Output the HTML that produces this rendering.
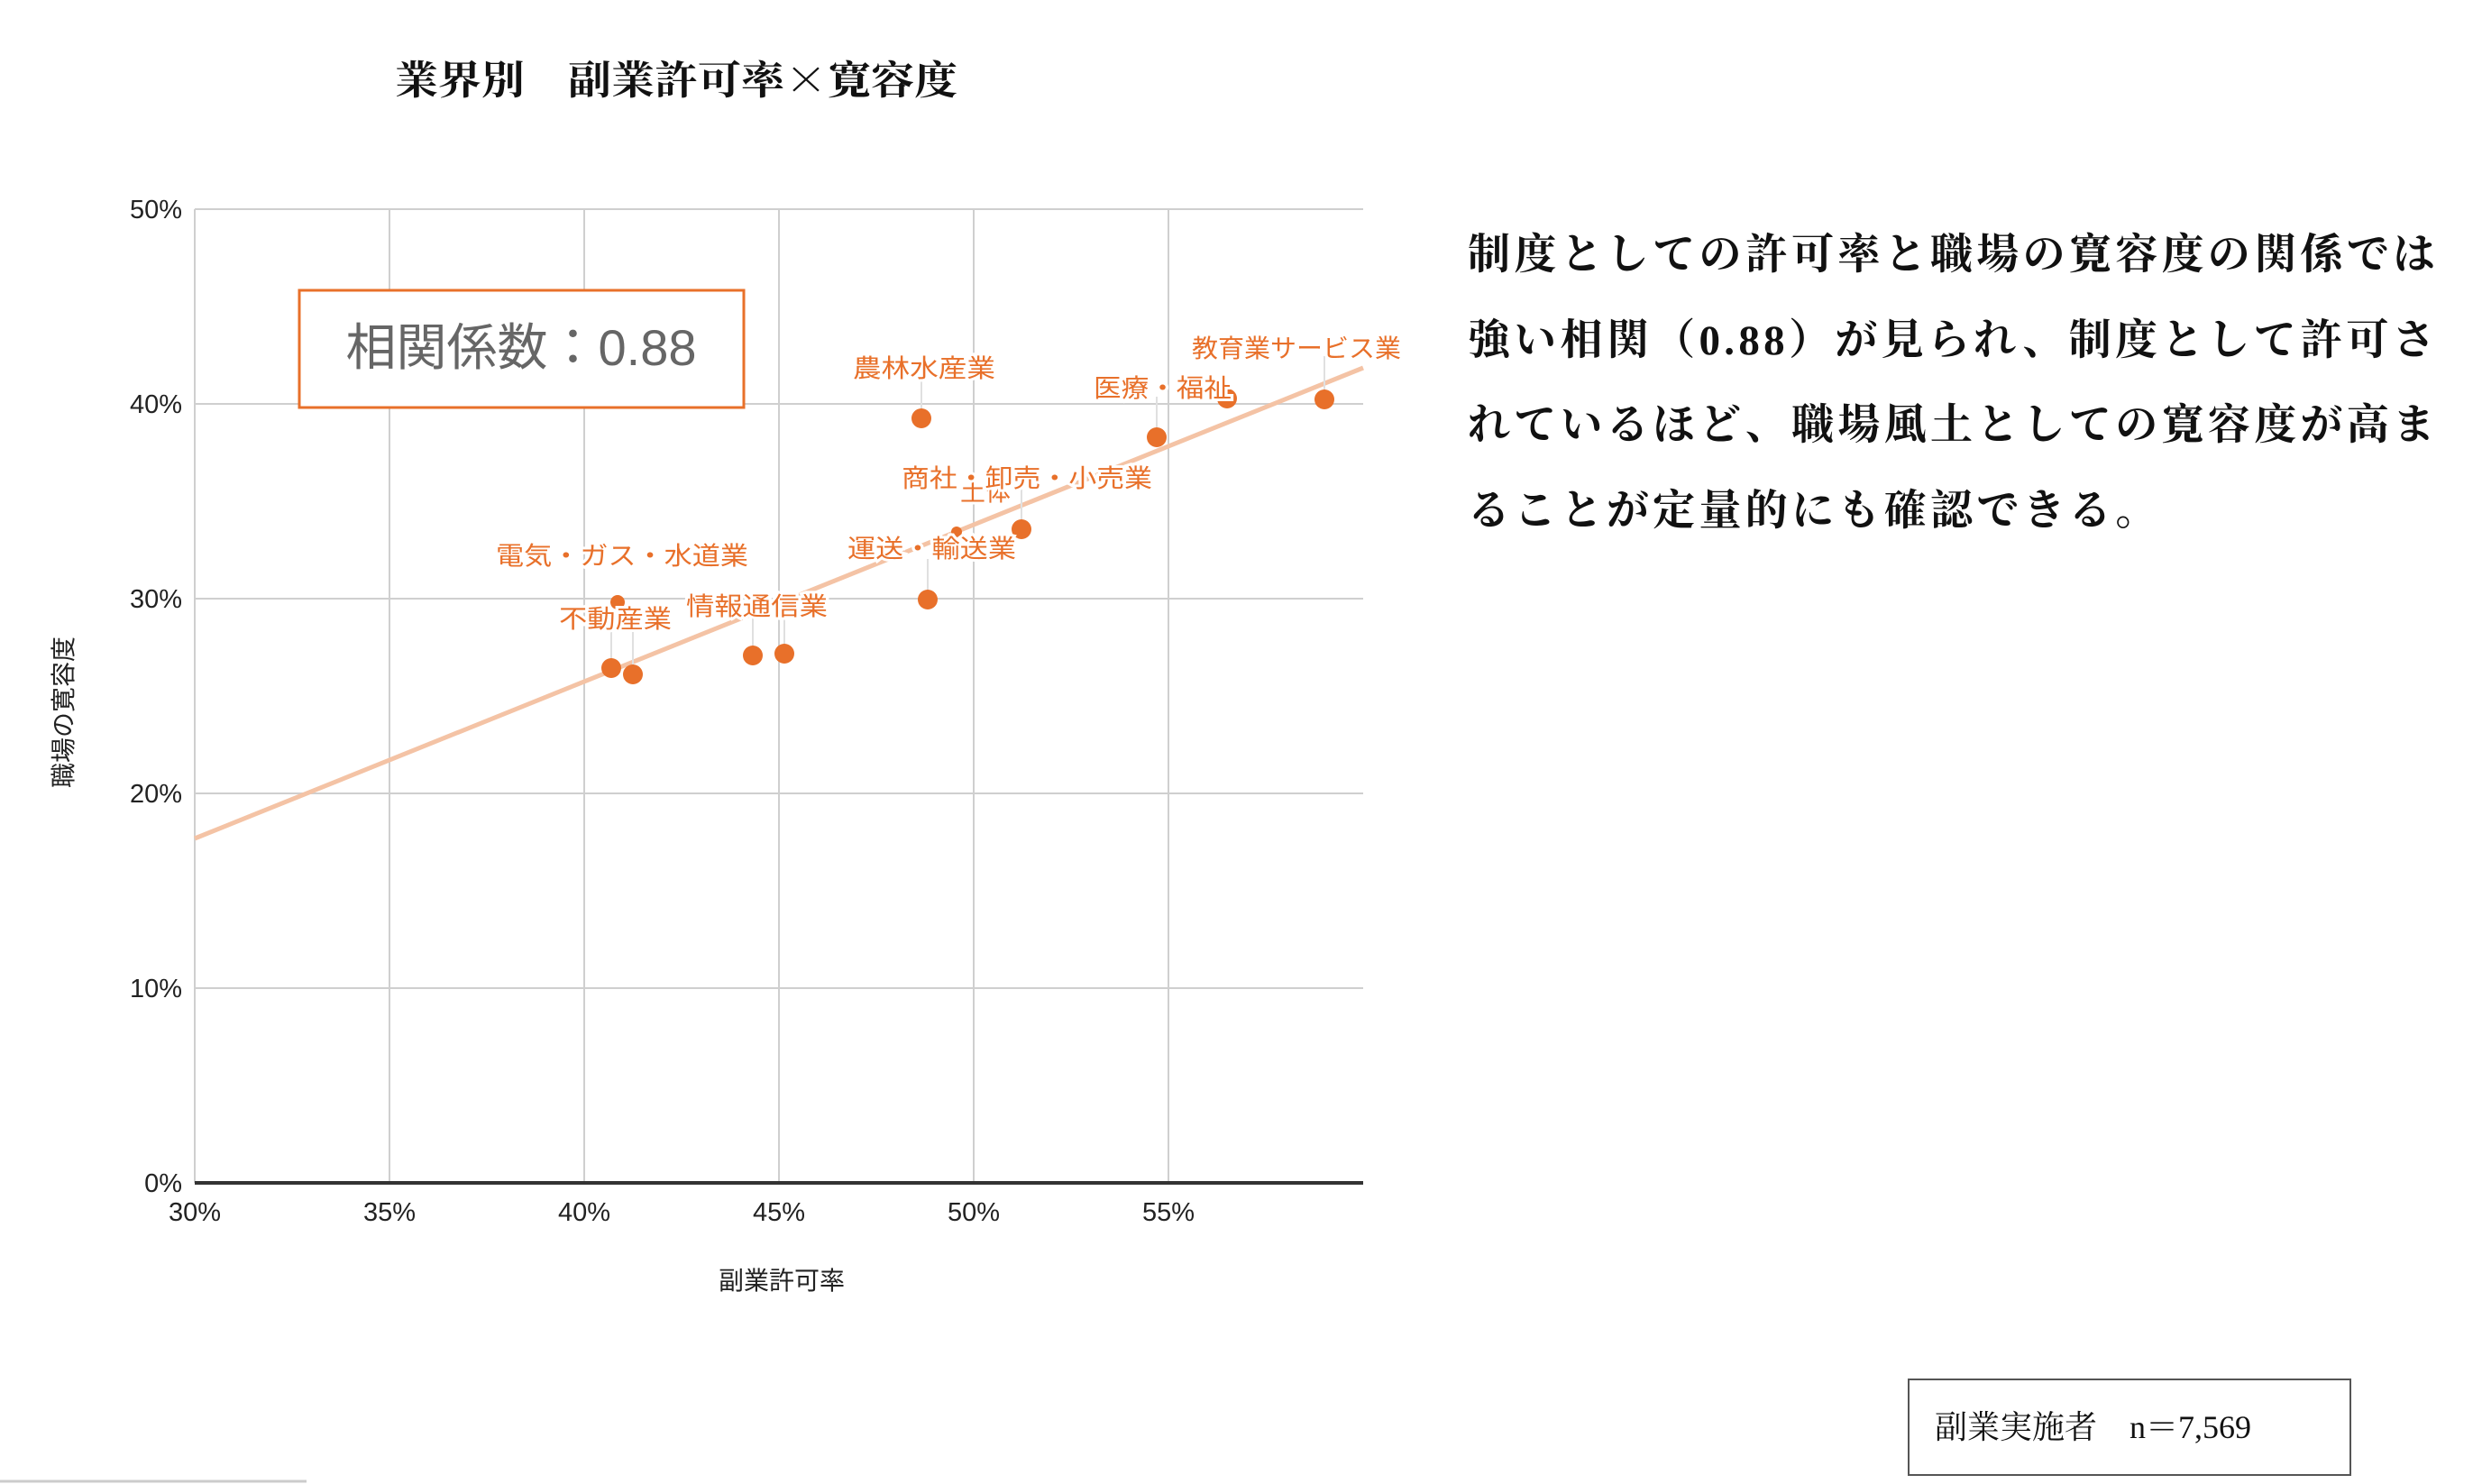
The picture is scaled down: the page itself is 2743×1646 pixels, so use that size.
<!DOCTYPE html>
<html><head><meta charset="utf-8"><style>
html,body{margin:0;padding:0;background:#fff;}
body{width:2743px;height:1646px;position:relative;overflow:hidden;}
.serif{font-family:"Liberation Serif","Noto Serif CJK SC","Noto Sans CJK JP",serif;}
.para{position:absolute;left:1628px;top:236px;font-size:47px;font-weight:bold;line-height:94.5px;letter-spacing:4.3px;color:#111;white-space:nowrap;}
.foot{position:absolute;left:2116px;top:1529px;width:492px;height:108px;border:2px solid #555;box-sizing:border-box;font-size:36px;line-height:104px;padding-left:28px;color:#111;white-space:nowrap;}
</style></head><body>
<svg width="2743" height="1646" style="position:absolute;left:0;top:0" font-family="Liberation Sans, Noto Sans CJK JP, sans-serif">
<text x="438" y="104" textLength="624" lengthAdjust="spacingAndGlyphs" font-size="44" font-weight="bold" font-family="Noto Serif CJK SC, serif" fill="#111">業界別　副業許可率×寛容度</text>
<g stroke="#cfcfcf" stroke-width="2">
<line x1="216" y1="232" x2="1512" y2="232"/>
<line x1="216" y1="448" x2="1512" y2="448"/>
<line x1="216" y1="664" x2="1512" y2="664"/>
<line x1="216" y1="880" x2="1512" y2="880"/>
<line x1="216" y1="1096" x2="1512" y2="1096"/>
<line x1="216" y1="232" x2="216" y2="1312"/>
<line x1="432" y1="232" x2="432" y2="1312"/>
<line x1="648" y1="232" x2="648" y2="1312"/>
<line x1="864" y1="232" x2="864" y2="1312"/>
<line x1="1080" y1="232" x2="1080" y2="1312"/>
<line x1="1296" y1="232" x2="1296" y2="1312"/>
</g>
<line x1="216" y1="1312" x2="1512" y2="1312" stroke="#333" stroke-width="4"/>
<g font-size="29" fill="#222" text-anchor="end">
<text x="202" y="242">50%</text><text x="202" y="458">40%</text><text x="202" y="674">30%</text>
<text x="202" y="890">20%</text><text x="202" y="1106">10%</text><text x="202" y="1322">0%</text>
</g>
<g font-size="29" fill="#222" text-anchor="middle">
<text x="216" y="1354">30%</text><text x="432" y="1354">35%</text><text x="648" y="1354">40%</text>
<text x="864" y="1354">45%</text><text x="1080" y="1354">50%</text><text x="1296" y="1354">55%</text>
</g>
<text x="867" y="1430" text-anchor="middle" font-size="28" fill="#222">副業許可率</text>
<text transform="translate(80,790) rotate(-90)" text-anchor="middle" font-size="28" fill="#222">職場の寛容度</text>
<line x1="216" y1="930" x2="1512" y2="408" stroke="#f4c3a5" stroke-width="5"/>
<rect x="332" y="322" width="493" height="130" fill="#fff" stroke="#e8702a" stroke-width="3"/>
<text x="578" y="405" text-anchor="middle" font-size="56" fill="#666">相関係数：0.88</text>
<g stroke="#e0e0e0" stroke-width="2">
<line x1="1022" y1="420" x2="1022" y2="455"/><line x1="1283" y1="440" x2="1283" y2="475"/>
<line x1="1469" y1="395" x2="1469" y2="433"/><line x1="1133" y1="540" x2="1133" y2="578"/>
<line x1="1029" y1="620" x2="1029" y2="655"/><line x1="835" y1="685" x2="835" y2="717"/>
<line x1="870" y1="685" x2="870" y2="715"/><line x1="678" y1="697" x2="678" y2="731"/><line x1="702" y1="697" x2="702" y2="738"/>
</g>
<g fill="#e8702a">
<circle cx="685" cy="668" r="8"/><circle cx="1061" cy="590" r="6"/>
<circle cx="1022" cy="464" r="11"/><circle cx="1361" cy="442" r="11"/><circle cx="1469" cy="443" r="11"/>
<circle cx="1283" cy="485" r="11"/><circle cx="1133" cy="587" r="11"/><circle cx="1029" cy="665" r="11"/>
<circle cx="835" cy="727" r="11"/><circle cx="870" cy="725" r="11"/><circle cx="678" cy="741" r="11"/><circle cx="702" cy="748" r="11"/>
</g>
<g font-size="28" fill="#e8702a" stroke="#fff" stroke-width="6" paint-order="stroke">
<text x="946" y="418" textLength="158" lengthAdjust="spacingAndGlyphs">農林水産業</text>
<text x="1322" y="396" textLength="232" lengthAdjust="spacingAndGlyphs">教育業サービス業</text>
<text x="1213" y="440" textLength="153" lengthAdjust="spacingAndGlyphs">医療・福祉</text>
<text x="1065" y="555">土体</text>
<text x="1000" y="540" textLength="278" lengthAdjust="spacingAndGlyphs">商社・卸売・小売業</text>
<text x="940" y="618" textLength="187" lengthAdjust="spacingAndGlyphs">運送・輸送業</text>
<text x="550" y="626" textLength="280" lengthAdjust="spacingAndGlyphs">電気・ガス・水道業</text>
<text x="761" y="682" textLength="157" lengthAdjust="spacingAndGlyphs">情報通信業</text>
<text x="620" y="696" textLength="125" lengthAdjust="spacingAndGlyphs">不動産業</text>
</g>
<line x1="0" y1="1643" x2="340" y2="1643" stroke="#ccc" stroke-width="3"/>
</svg>
<div class="para serif">制度としての許可率と職場の寛容度の関係では<br>強い相関（0.88）が見られ、制度として許可さ<br>れているほど、職場風土としての寛容度が高ま<br>ることが定量的にも確認できる。</div>
<div class="foot serif">副業実施者　n＝7,569</div>
</body></html>
